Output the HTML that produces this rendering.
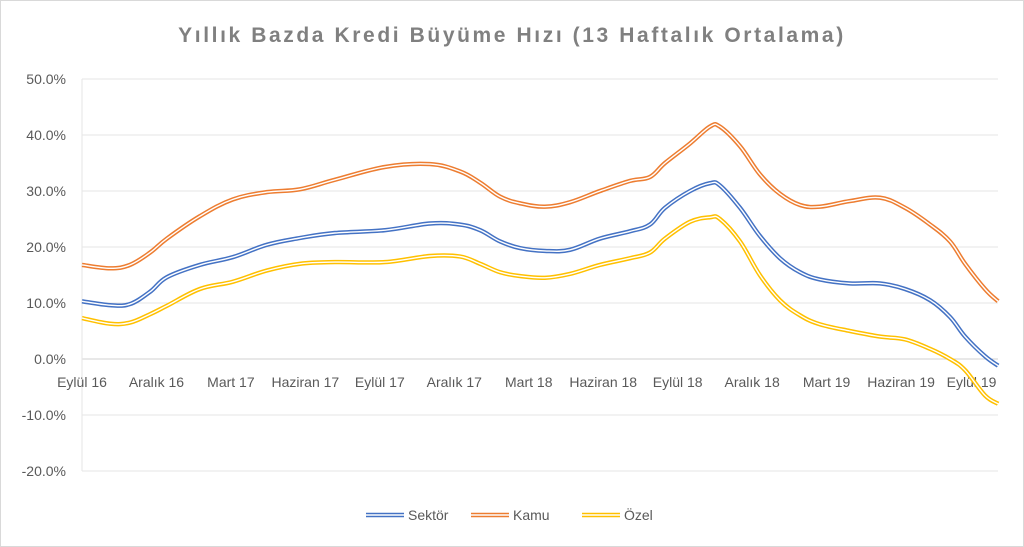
<!DOCTYPE html>
<html><head><meta charset="utf-8"><style>
body{margin:0;background:#fff;}
svg{display:block;font-family:"Liberation Sans",sans-serif;}
</style></head><body>
<svg id="c" width="1024" height="547">
<rect x="0.5" y="0.5" width="1023" height="546" fill="#fff" stroke="#d9d9d9"/>
<text x="512" y="42" text-anchor="middle" font-size="21" font-weight="bold" fill="#808080" letter-spacing="2.6">Yıllık Bazda Kredi Büyüme Hızı (13 Haftalık Ortalama)</text>
<g id="grid"></g><g id="ylab"></g><g id="xlab"></g><g id="series"></g><g id="legend"></g>
</svg>
<script>
const months=[0,1.13,1.93,2.74,3.42,4.75,6.08,7.45,8.78,10.19,12.21,14.02,15.23,16.04,16.84,17.65,18.65,19.66,20.87,22.08,22.88,23.49,24.5,25.3,25.7,26.51,27.31,28.12,28.93,29.73,30.94,32.15,33.16,34.17,34.97,35.58,36.38,36.91];
const sektor=[10.3,9.6,9.8,12.0,14.6,16.8,18.2,20.4,21.6,22.5,23.0,24.2,24.0,23.0,21.0,19.8,19.3,19.5,21.5,22.8,24.0,27.0,30.0,31.4,31.0,27.0,22.0,18.0,15.5,14.2,13.5,13.5,12.5,10.5,7.5,4.0,0.5,-1.2];
const kamu=[16.8,16.2,16.8,19.0,21.5,25.5,28.5,29.8,30.3,32.0,34.3,34.8,33.5,31.5,29.0,27.8,27.2,28.0,30.0,31.8,32.5,35.0,38.5,41.5,41.5,38.0,33.0,29.5,27.5,27.2,28.2,28.8,27.0,24.0,21.0,17.0,12.5,10.3];
const ozel=[7.3,6.3,6.5,8.0,9.5,12.5,13.8,15.8,17.0,17.3,17.3,18.4,18.3,17.0,15.5,14.8,14.5,15.2,16.8,18.0,19.0,21.5,24.5,25.3,25.0,21.0,15.0,10.5,7.8,6.2,5.0,4.0,3.5,1.8,0.0,-2.0,-6.5,-8.0];
const yTicks=[50,40,30,20,10,0,-10,-20];
const yTickLabels=["50.0%","40.0%","30.0%","20.0%","10.0%","0.0%","-10.0%","-20.0%"];
const xTickMonths=[0,3,6,9,12,15,18,21,24,27,30,33,36];
const xTickLabels=["Eylül 16","Aralık 16","Mart 17","Haziran 17","Eylül 17","Aralık 17","Mart 18","Haziran 18","Eylül 18","Aralık 18","Mart 19","Haziran 19","Eylül 19"];
const names=["Sektör","Kamu","Özel"];
const colors=["#4472c4","#ed7d31","#ffc000"];
const X0=82,X1=998,Y0=359,PER10=56,MPX=24.82;
const xs=m=>X0+m*MPX;
const ys=v=>Y0-v*PER10/10;
const NS="http://www.w3.org/2000/svg";
function mk(t,a,p){const e=document.createElementNS(NS,t);for(const k in a)e.setAttribute(k,a[k]);p.appendChild(e);return e;}
const grid=document.getElementById('grid'),ylab=document.getElementById('ylab'),xlab=document.getElementById('xlab');
yTicks.forEach((v,i)=>{
 const l=mk('line',{x1:X0,x2:X1,y1:ys(v),y2:ys(v),stroke:v===0?'#d0d0d0':'#e6e6e6','stroke-width':1},grid);
 
 
 const t=mk('text',{x:66,y:ys(v)+5,'text-anchor':'end','font-size':14,fill:'#595959'},ylab);
 t.textContent=yTickLabels[i];
 
 
});
const ax=mk('line',{x1:X0,x2:X0,y1:ys(50),y2:ys(-20),stroke:'#e6e6e6'},grid);


xTickMonths.forEach((m,i)=>{
 const t=mk('text',{x:xs(m)+(i===12?-4:0),y:387,'text-anchor':'middle','font-size':14,fill:'#595959'},xlab);
 t.textContent=xTickLabels[i];
 
 
});
function smooth(pts){
 let d='M'+pts[0][0].toFixed(1)+','+pts[0][1].toFixed(1);
 for(let i=0;i<pts.length-1;i++){
  const p0=pts[Math.max(0,i-1)],p1=pts[i],p2=pts[i+1],p3=pts[Math.min(pts.length-1,i+2)];
  const t=0.18;
  const c1=[p1[0]+(p2[0]-p0[0])*t,p1[1]+(p2[1]-p0[1])*t];
  const c2=[p2[0]-(p3[0]-p1[0])*t,p2[1]-(p3[1]-p1[1])*t];
  d+='C'+c1[0].toFixed(1)+','+c1[1].toFixed(1)+' '+c2[0].toFixed(1)+','+c2[1].toFixed(1)+' '+p2[0].toFixed(1)+','+p2[1].toFixed(1);
 }
 return d;
}
const ser=document.getElementById('series');
[sektor,kamu,ozel].forEach((arr,si)=>{
 const d=smooth(arr.map((v,i)=>[xs(months[i]),ys(v)]));
 const g=mk('g',{},ser);
 
 
 mk('path',{d:d,fill:'none',stroke:colors[si],'stroke-width':4.4,'stroke-linejoin':'round'},g);
 mk('path',{d:d,fill:'none',stroke:'#fff','stroke-width':1.4,'stroke-linejoin':'round'},g);
});
const leg=document.getElementById('legend');
const lx=[366,471,582];
names.forEach((n,i)=>{
 const g=mk('g',{},leg);
 
 
 mk('line',{x1:lx[i],x2:lx[i]+38,y1:515,y2:515,stroke:colors[i],'stroke-width':4.4},g);
 mk('line',{x1:lx[i],x2:lx[i]+38,y1:515,y2:515,stroke:'#fff','stroke-width':1.4},g);
 const t=mk('text',{x:lx[i]+42,y:520,'font-size':14,fill:'#595959'},g);
 t.textContent=n;
});
</script>
</body></html>
